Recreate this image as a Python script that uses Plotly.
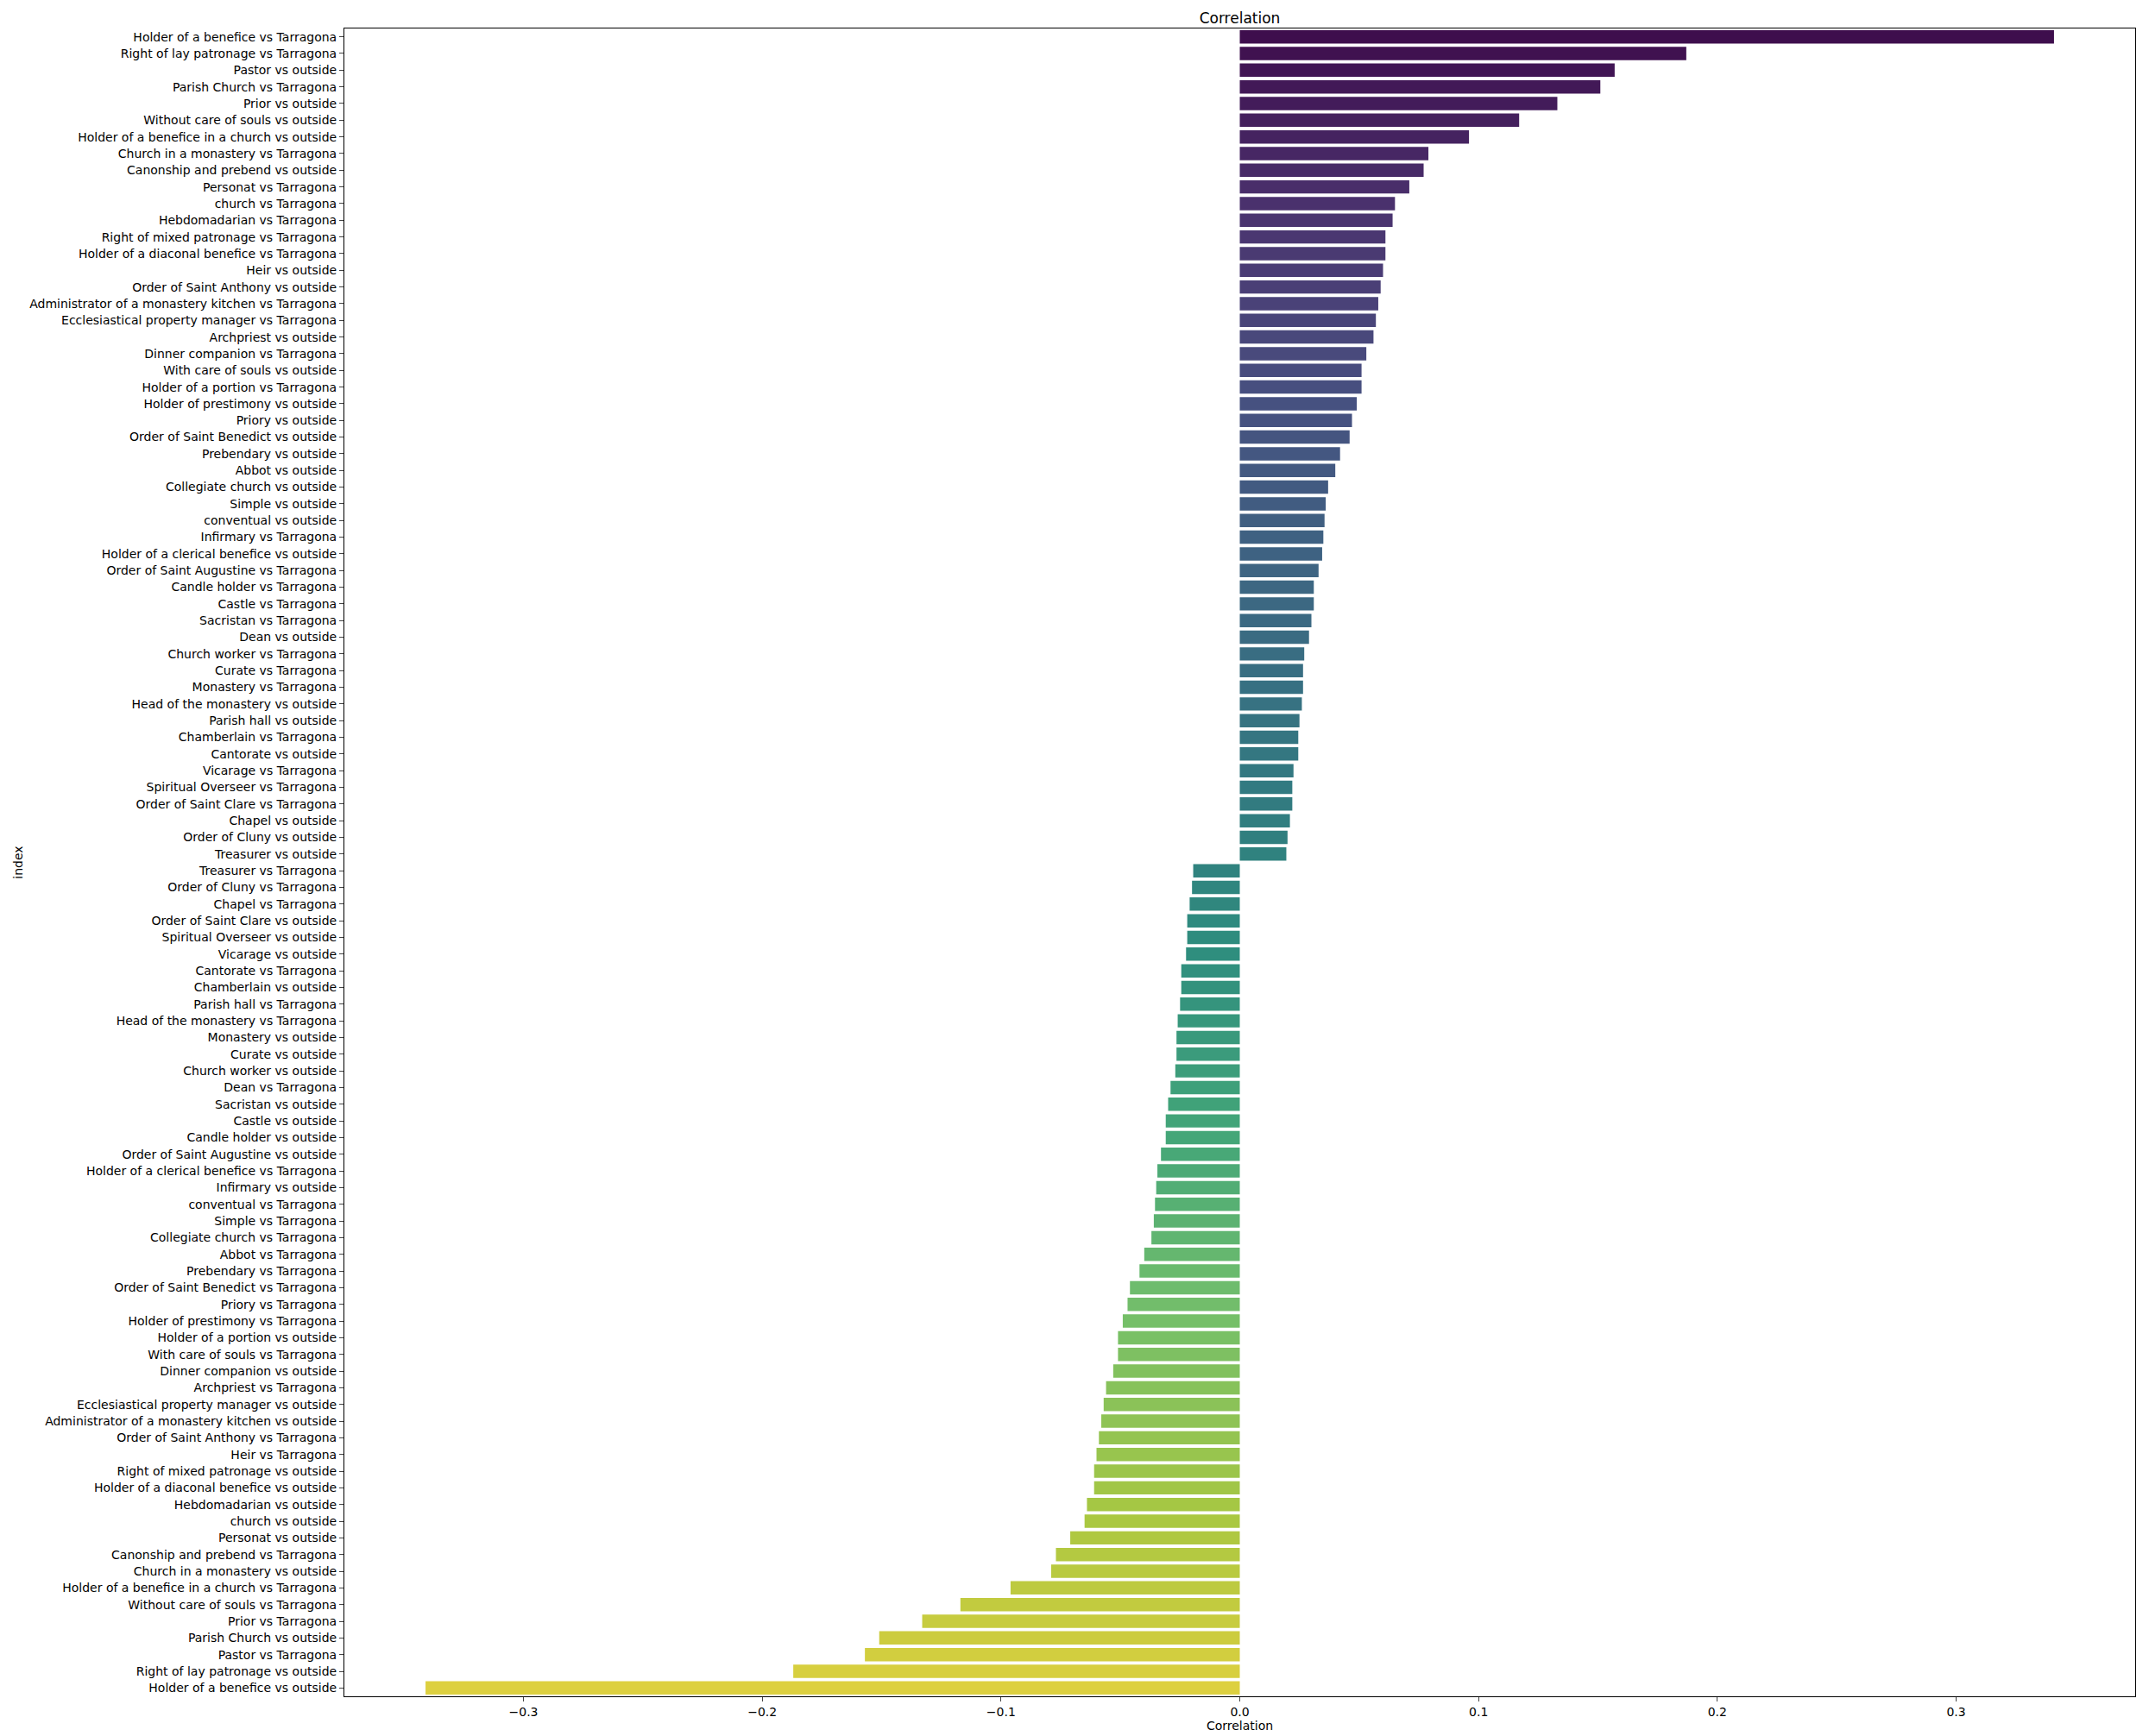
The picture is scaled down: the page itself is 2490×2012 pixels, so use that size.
"""Horizontal bar chart of correlations, viridis coloured, sorted descending."""

import colorsys
import plotly.graph_objects as go
from plotly.colors import sample_colorscale, unlabel_rgb

pos_labels = [
    "Holder of a benefice vs Tarragona", "Right of lay patronage vs Tarragona", "Pastor vs outside",
    "Parish Church vs Tarragona", "Prior vs outside", "Without care of souls vs outside",
    "Holder of a benefice in a church vs outside", "Church in a monastery vs Tarragona",
    "Canonship and prebend vs outside", "Personat vs Tarragona", "church vs Tarragona",
    "Hebdomadarian vs Tarragona", "Right of mixed patronage vs Tarragona",
    "Holder of a diaconal benefice vs Tarragona", "Heir vs outside", "Order of Saint Anthony vs outside",
    "Administrator of a monastery kitchen vs Tarragona", "Ecclesiastical property manager vs Tarragona",
    "Archpriest vs outside", "Dinner companion vs Tarragona", "With care of souls vs outside",
    "Holder of a portion vs Tarragona", "Holder of prestimony vs outside", "Priory vs outside",
    "Order of Saint Benedict vs outside", "Prebendary vs outside", "Abbot vs outside",
    "Collegiate church vs outside", "Simple vs outside", "conventual vs outside", "Infirmary vs Tarragona",
    "Holder of a clerical benefice vs outside", "Order of Saint Augustine vs Tarragona",
    "Candle holder vs Tarragona", "Castle vs Tarragona", "Sacristan vs Tarragona", "Dean vs outside",
    "Church worker vs Tarragona", "Curate vs Tarragona", "Monastery vs Tarragona",
    "Head of the monastery vs outside", "Parish hall vs outside", "Chamberlain vs Tarragona",
    "Cantorate vs outside", "Vicarage vs Tarragona", "Spiritual Overseer vs Tarragona",
    "Order of Saint Clare vs Tarragona", "Chapel vs outside", "Order of Cluny vs outside",
    "Treasurer vs outside",
]
pos_values = [
    0.341, 0.187, 0.157, 0.151, 0.133, 0.117, 0.096, 0.079, 0.077, 0.071,
    0.065, 0.064, 0.061, 0.061, 0.060, 0.059, 0.058, 0.057, 0.056, 0.053,
    0.051, 0.051, 0.049, 0.047, 0.046, 0.042, 0.040, 0.037, 0.036, 0.0355,
    0.035, 0.0345, 0.033, 0.031, 0.031, 0.030, 0.029, 0.027, 0.0265, 0.0265,
    0.026, 0.025, 0.0245, 0.0245, 0.0225, 0.022, 0.022, 0.021, 0.020, 0.0195,
]
neg_labels = [
    "Treasurer vs Tarragona", "Order of Cluny vs Tarragona", "Chapel vs Tarragona",
    "Order of Saint Clare vs outside", "Spiritual Overseer vs outside", "Vicarage vs outside",
    "Cantorate vs Tarragona", "Chamberlain vs outside", "Parish hall vs Tarragona",
    "Head of the monastery vs Tarragona", "Monastery vs outside", "Curate vs outside",
    "Church worker vs outside", "Dean vs Tarragona", "Sacristan vs outside", "Castle vs outside",
    "Candle holder vs outside", "Order of Saint Augustine vs outside",
    "Holder of a clerical benefice vs Tarragona", "Infirmary vs outside", "conventual vs Tarragona",
    "Simple vs Tarragona", "Collegiate church vs Tarragona", "Abbot vs Tarragona",
    "Prebendary vs Tarragona", "Order of Saint Benedict vs Tarragona", "Priory vs Tarragona",
    "Holder of prestimony vs Tarragona", "Holder of a portion vs outside",
    "With care of souls vs Tarragona", "Dinner companion vs outside", "Archpriest vs Tarragona",
    "Ecclesiastical property manager vs outside", "Administrator of a monastery kitchen vs outside",
    "Order of Saint Anthony vs Tarragona", "Heir vs Tarragona", "Right of mixed patronage vs outside",
    "Holder of a diaconal benefice vs outside", "Hebdomadarian vs outside", "church vs outside",
    "Personat vs outside", "Canonship and prebend vs Tarragona", "Church in a monastery vs outside",
    "Holder of a benefice in a church vs Tarragona", "Without care of souls vs Tarragona",
    "Prior vs Tarragona", "Parish Church vs outside", "Pastor vs Tarragona",
    "Right of lay patronage vs outside", "Holder of a benefice vs outside",
]
neg_values = [
    -0.0195, -0.020, -0.021, -0.022, -0.022, -0.0225, -0.0245, -0.0245, -0.025, -0.026,
    -0.0265, -0.0265, -0.027, -0.029, -0.030, -0.031, -0.031, -0.033, -0.0345, -0.035,
    -0.0355, -0.036, -0.037, -0.040, -0.042, -0.046, -0.047, -0.049, -0.051, -0.051,
    -0.053, -0.056, -0.057, -0.058, -0.059, -0.060, -0.061, -0.061, -0.064, -0.065,
    -0.071, -0.077, -0.079, -0.096, -0.117, -0.133, -0.151, -0.157, -0.187, -0.341,
]
tick_vals = [-0.3, -0.2, -0.1, 0.0, 0.1, 0.2, 0.3]
tick_text = ["\u22120.3", "\u22120.2", "\u22120.1", "0.0", "0.1", "0.2", "0.3"]

labels = pos_labels + neg_labels
values = pos_values + neg_values
n = len(labels)


def desaturate(c, prop=0.75):
    # seaborn-style desaturation of the bar colours
    r, g, b = [v / 255 for v in unlabel_rgb(c)]
    h, l, s = colorsys.rgb_to_hls(r, g, b)
    r, g, b = colorsys.hls_to_rgb(h, l, s * prop)
    return "rgb(%d,%d,%d)" % (round(r * 255), round(g * 255), round(b * 255))


colors = [desaturate(c) for c in sample_colorscale("Viridis", [(i + 1) / (n + 1) for i in range(n)])]

fig = go.Figure(go.Bar(
    x=values, y=labels, orientation="h",
    marker=dict(color=colors, line=dict(width=0)),
    width=0.8,
))

font = "DejaVu Sans"
fig.update_layout(
    width=2490, height=2012,
    paper_bgcolor="white", plot_bgcolor="white",
    margin=dict(l=389, r=24, t=25, b=54),
    font=dict(family=font, size=14, color="black"),
    title=dict(text="Correlation", x=0.5, xref="paper", y=1, yref="paper", yanchor="bottom",
               pad=dict(b=6), font=dict(size=17)),
    showlegend=False,
)
fig.update_xaxes(
    range=[-0.375, 0.375], tickvals=tick_vals, ticktext=tick_text,
    ticks="outside", ticklen=5, showgrid=False, zeroline=False,
    showline=True, linecolor="black", mirror=True,
    title=dict(text="Correlation", standoff=4, font=dict(size=14)),
)
fig.update_yaxes(
    autorange="reversed", ticks="outside", ticklen=5, showgrid=False,
    showline=True, linecolor="black", mirror=True,
    title=dict(text="index", standoff=4, font=dict(size=14)),
)

fig.write_html("out.html")
